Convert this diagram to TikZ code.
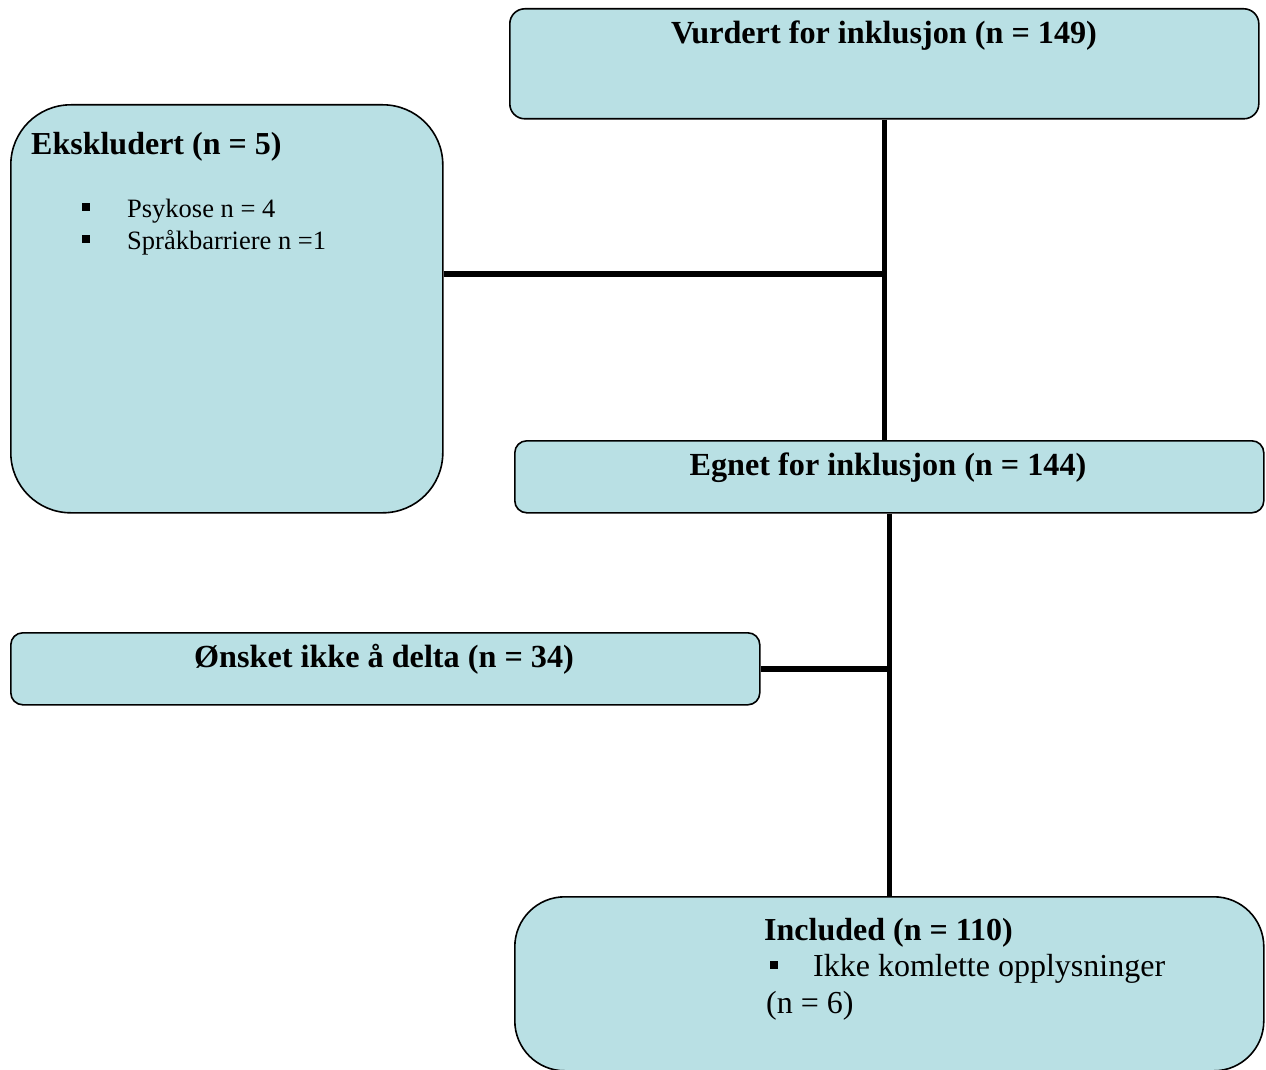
\documentclass[tikz,border=0pt]{standalone}
\usepackage{fontspec}
\setmainfont{Liberation Serif}
\definecolor{boxfill}{RGB}{185,224,228}
\tikzset{
  box/.style={draw=black, line width=1.6pt, fill=boxfill, rectangle, inner sep=0pt, anchor=north west},
  conn/.style={line width=5.5pt},
  title/.style={font=\fontsize{32.2}{36}\selectfont\bfseries, inner sep=0pt, anchor=base},
  titlel/.style={font=\fontsize{32}{36}\selectfont\bfseries, inner sep=0pt, anchor=base west},
  body/.style={font=\fontsize{26.5}{30}\selectfont, inner sep=0pt, anchor=base west},
  bodyl/.style={font=\fontsize{32}{36}\selectfont, inner sep=0pt, anchor=base west},
  bul/.style={fill=black, inner sep=0pt, minimum size=8pt, rectangle},
}
\begin{document}
\begin{tikzpicture}[x=1pt,y=-1pt]
\useasboundingbox[fill=white] (0,0) rectangle (1266,1070);
% boxes
\node[box, rounded corners=15pt, minimum width=749pt, minimum height=110pt] (vur) at (509,8) {};
\node[box, rounded corners=60pt, minimum width=432pt, minimum height=408pt] (eks) at (10,104) {};
\node[box, rounded corners=12pt, minimum width=749pt, minimum height=72pt] (egn) at (514,440) {};
\node[box, rounded corners=12pt, minimum width=749pt, minimum height=72pt] (ons) at (10,632) {};
\node[box, rounded corners=50pt, minimum width=749pt, minimum height=174pt] (inc) at (514,896) {};
% connectors
\coordinate (j1) at (884,274);
\draw[conn] (vur.south) -- (vur.south |- egn.north);
\draw[conn] (eks.east |- j1) -- (j1);
\draw[conn] (egn.south) -- (inc.north);
\draw[conn] (ons.east) -- (ons.east -| egn.south);
% texts
\node[title] (tvur) at (884,44) {Vurdert for inklusjon (n = 149)};
\node[titlel] (teks) at (31,154) {Ekskludert (n = 5)};
\node[bul] (b1) at (86,207) {};
\node[body] (t1) at (127,217) {Psykose n = 4};
\node[bul] (b2) at (86,239) {};
\node[body] (t2) at (127,249) {Språkbarriere n =1};
\node[title] (tegn) at (888,475) {Egnet for inklusjon (n = 144)};
\node[title] (tons) at (384,667) {Ønsket ikke å delta (n = 34)};
\node[titlel] (tinc) at (764,940) {Included (n = 110)};
\node[bul] (b3) at (774,965) {};
\node[bodyl] (t3) at (813,976) {Ikke komlette opplysninger};
\node[bodyl] (t4) at (766,1013) {(n = 6)};
\end{tikzpicture}
\end{document}
